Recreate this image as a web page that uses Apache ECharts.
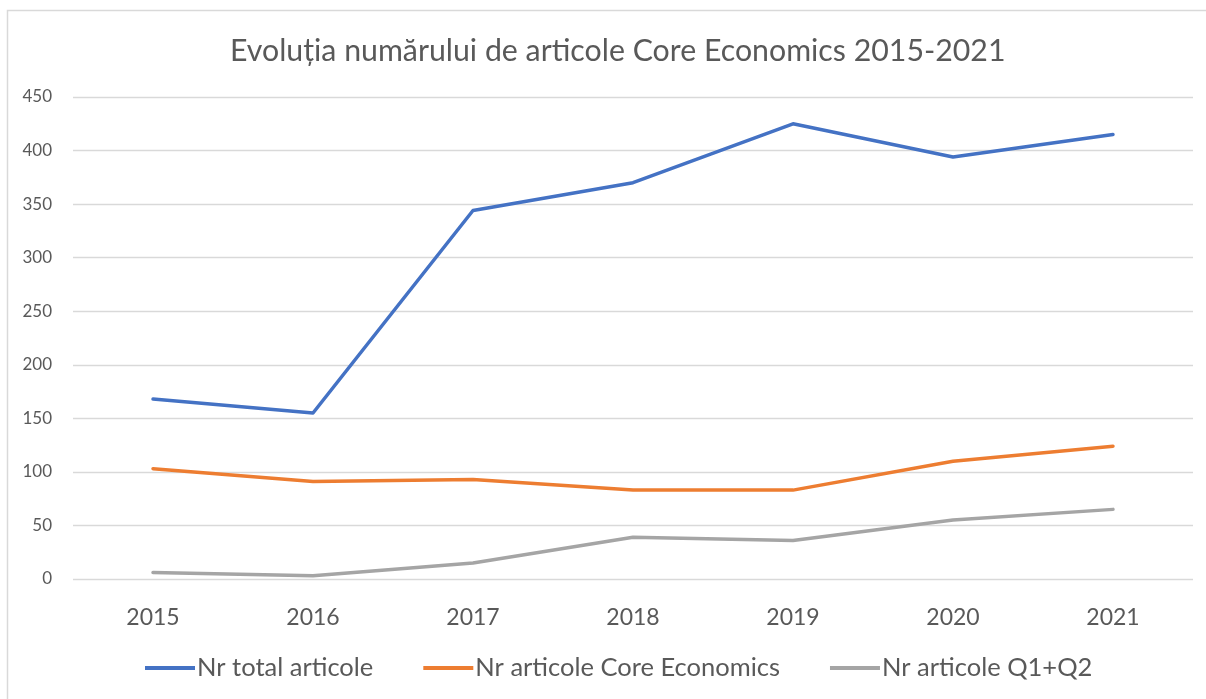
<!DOCTYPE html>
<html>
<head>
<meta charset="utf-8">
<script src="https://cdn.jsdelivr.net/npm/echarts@6/dist/echarts.min.js"></script>
<style>html,body{margin:0;padding:0;background:#fff;}#c{width:1206px;height:699px;}</style>
</head>
<body>
<div id="c"></div>
<script>
var titleText = 'Evoluția numărului de articole Core Economics 2015-2021';
var years = ['2015', '2016', '2017', '2018', '2019', '2020', '2021'];
var seriesNames = ['Nr total articole', 'Nr articole Core Economics', 'Nr articole Q1+Q2'];
var totalArticole = [168, 155, 344, 370, 425, 394, 415];
var coreEconomics = [103, 91, 93, 83, 83, 110, 124];
var q1q2 = [6, 3, 15, 39, 36, 55, 65];
var yTicks = {min: 0, max: 450, interval: 50};

var chart = echarts.init(document.getElementById('c'));
var font = 'Lato, "Open Sans", sans-serif';
function mk(name, data, color) {
  return {
    name: name, type: 'line', data: data, symbol: 'none', smooth: false,
    lineStyle: {color: color, width: 3.5, cap: 'round', join: 'round'},
    itemStyle: {color: color}
  };
}
chart.setOption({
  animation: false,
  backgroundColor: '#fff',
  graphic: [{
    type: 'rect', shape: {x: 7.5, y: 10.5, width: 1400, height: 900},
    style: {fill: null, stroke: '#d9d9d9', lineWidth: 1.5}, silent: true
  }],
  title: {
    text: titleText, left: 225, top: 31,
    textStyle: {fontFamily: font, fontSize: 30.3, fontWeight: 'normal', color: '#595959'}
  },
  legend: {
    bottom: 13, left: 140, itemWidth: 50, itemHeight: 4, itemGap: 50,
    icon: 'rect',
    textStyle: {fontFamily: font, fontSize: 25.5, color: '#595959', padding: [0, 0, 0, -3]},
    data: seriesNames
  },
  grid: {left: 73, right: 13, top: 97, bottom: 120, containLabel: false},
  xAxis: {
    type: 'category', data: years, boundaryGap: true,
    axisLine: {show: false}, axisTick: {show: false},
    axisLabel: {fontFamily: font, fontSize: 23, color: '#595959', margin: 27}
  },
  yAxis: {
    type: 'value', min: yTicks.min, max: yTicks.max, interval: yTicks.interval,
    axisLine: {show: false}, axisTick: {show: false},
    splitLine: {lineStyle: {color: '#d9d9d9', width: 1.3}},
    axisLabel: {fontFamily: font, fontSize: 17, color: '#595959', margin: 21}
  },
  series: [
    mk(seriesNames[0], totalArticole, '#4472C4'),
    mk(seriesNames[1], coreEconomics, '#ED7D31'),
    mk(seriesNames[2], q1q2, '#A5A5A5')
  ]
});
</script>
</body>
</html>
